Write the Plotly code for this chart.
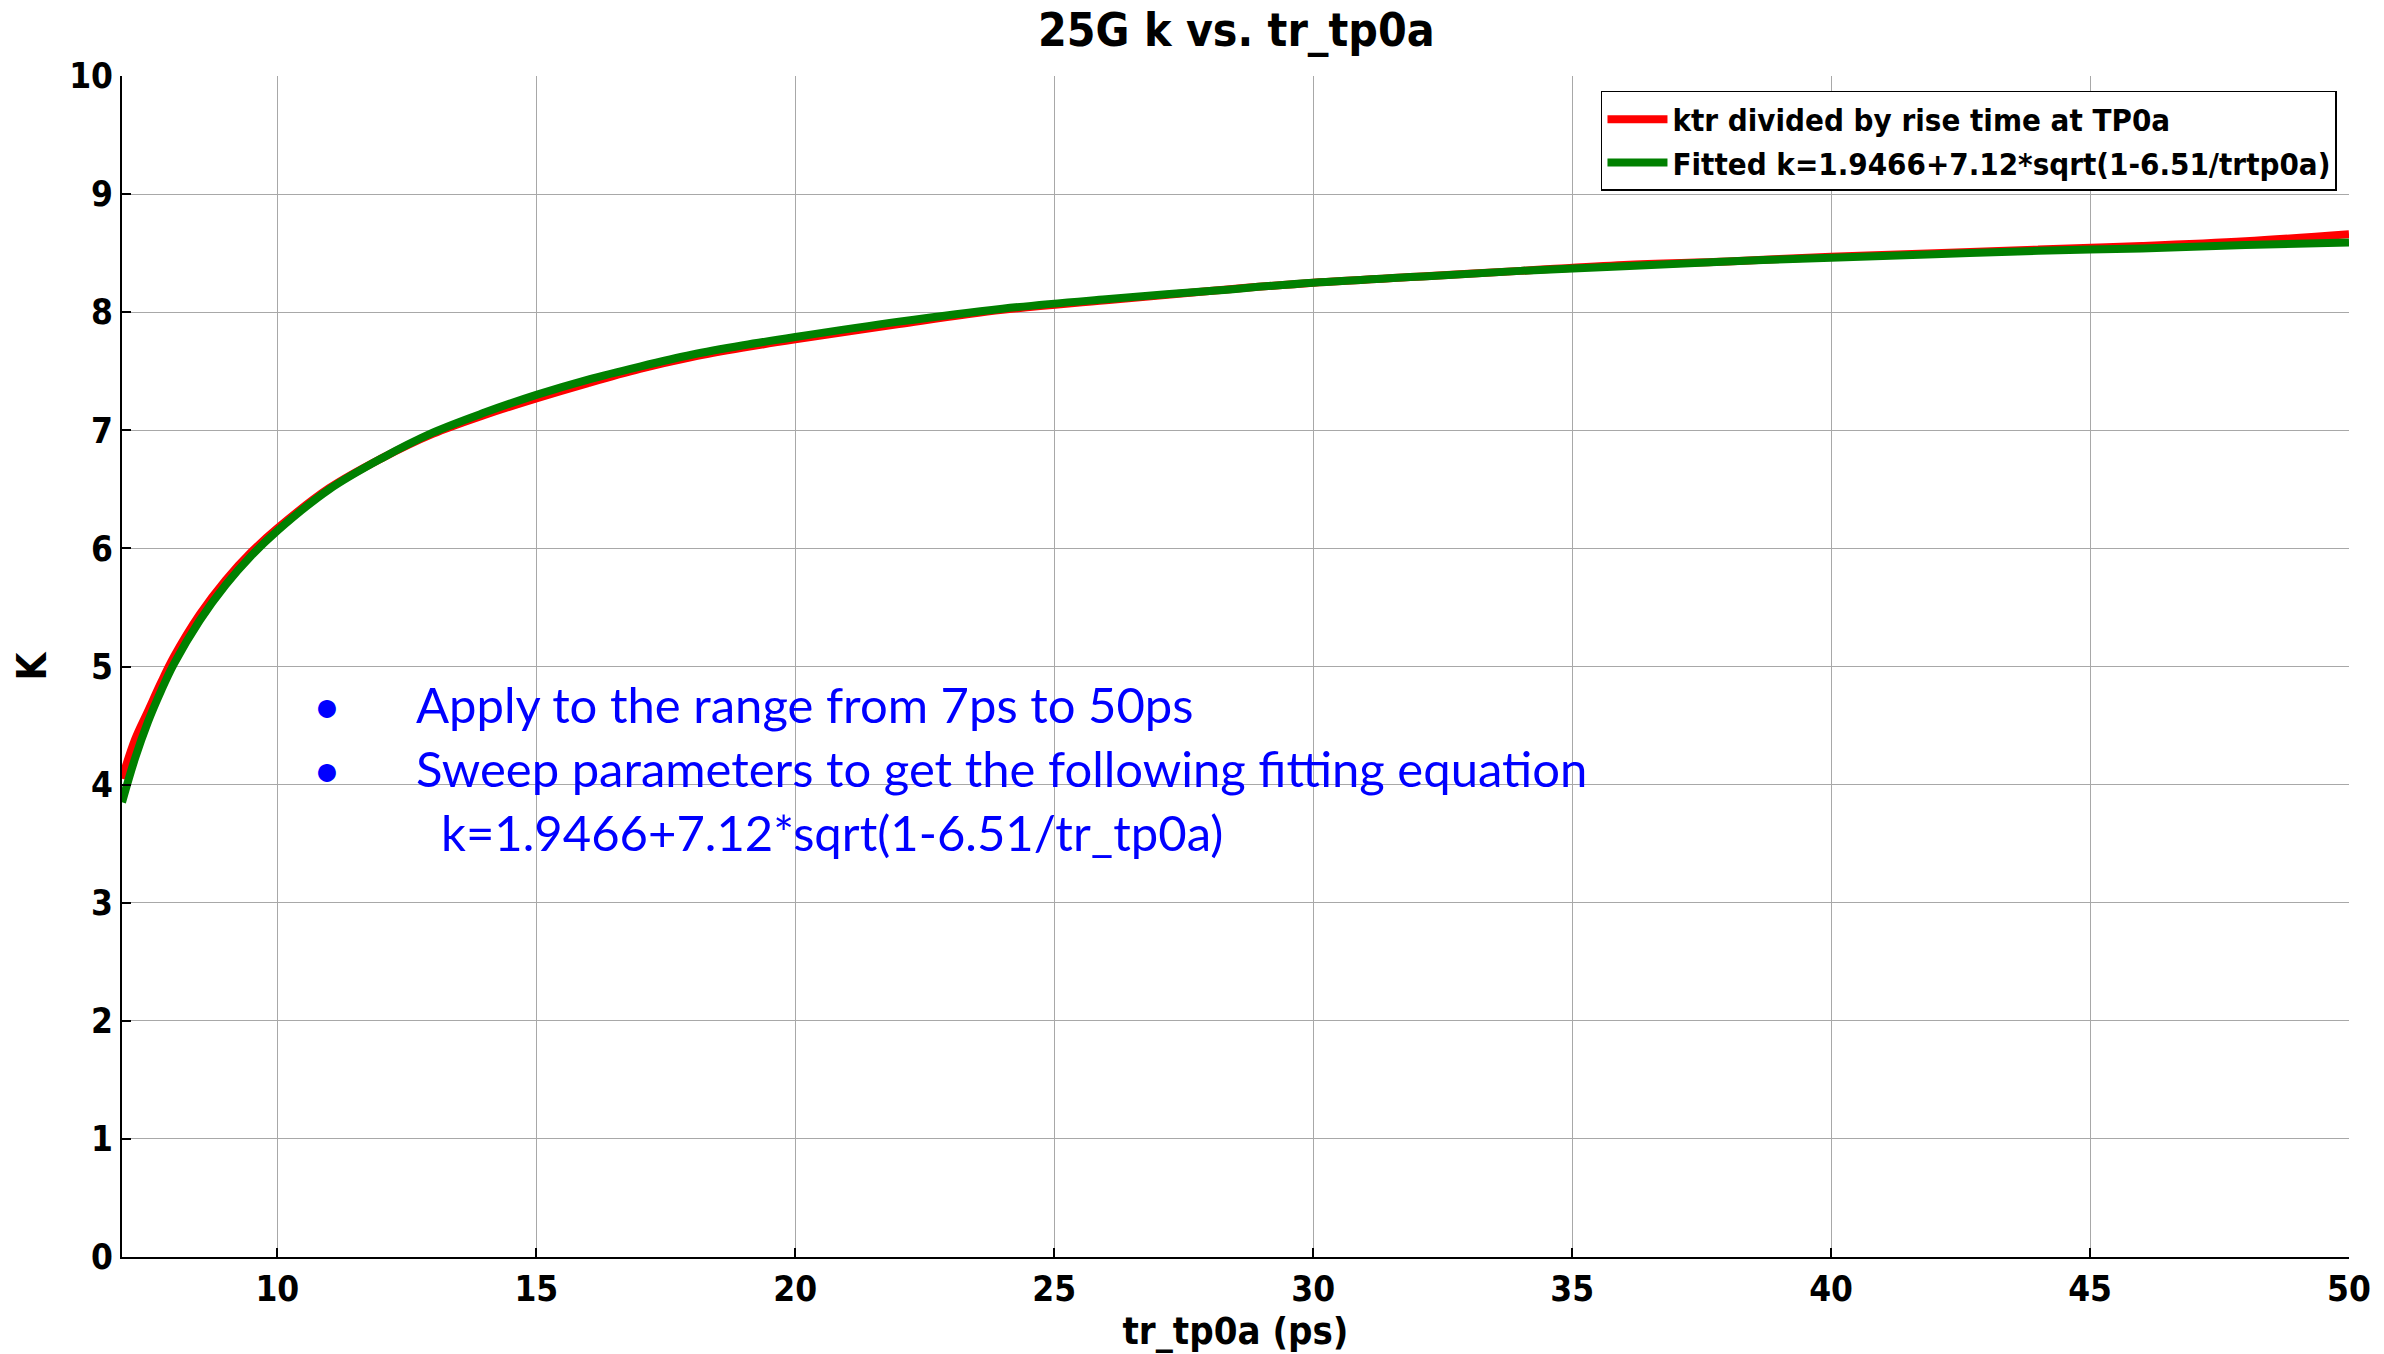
import plotly.graph_objects as go

# ---- data ----
tr_ps = [7, 7.25, 7.5, 7.75, 8, 8.5, 9, 9.5, 10, 11, 12, 13, 14, 15, 16, 17, 18, 19, 20,
         22, 24, 26, 28, 30, 32, 34, 36, 38, 40, 42, 44, 46, 48, 50]
k_measured = [4.05, 4.38, 4.62, 4.86, 5.08, 5.44, 5.73, 5.97, 6.17, 6.51, 6.76, 6.97, 7.13,
              7.27, 7.40, 7.52, 7.62, 7.70, 7.77, 7.90, 8.02, 8.10, 8.18, 8.25, 8.30, 8.35,
              8.40, 8.43, 8.47, 8.50, 8.53, 8.56, 8.60, 8.66]
k_fitted = [3.85, 4.22, 4.53, 4.79, 5.02, 5.39, 5.69, 5.94, 6.15, 6.50, 6.76, 6.98, 7.15,
            7.30, 7.43, 7.54, 7.64, 7.72, 7.79, 7.92, 8.03, 8.11, 8.18, 8.25, 8.30, 8.35,
            8.39, 8.43, 8.46, 8.49, 8.52, 8.54, 8.57, 8.59]

series_names = ["ktr divided by rise time at TP0a",
                "Fitted k=1.9466+7.12*sqrt(1-6.51/trtp0a)"]
x_ticks = [10, 15, 20, 25, 30, 35, 40, 45, 50]
y_ticks = [0, 1, 2, 3, 4, 5, 6, 7, 8, 9, 10]
note_lines = ["Apply to the range from 7ps to 50ps",
              "Sweep parameters to get the following fitting equation",
              "k=1.9466+7.12*sqrt(1-6.51/tr_tp0a)"]

NARROW = "Liberation Sans Narrow, Arial Narrow, DejaVu Sans Condensed, Liberation Sans, Arial"
NOTE_FONT = "Lato, Carlito, Calibri, Open Sans, sans-serif"

fig = go.Figure()
fig.add_trace(go.Scatter(x=tr_ps, y=k_measured, mode="lines", name=series_names[0],
                         line=dict(color="#ff0000", width=8, shape="spline")))
fig.add_trace(go.Scatter(x=tr_ps, y=k_fitted, mode="lines", name=series_names[1],
                         line=dict(color="#008000", width=8, shape="spline")))

# annotation text block
ys = [4.68, 4.14, 3.60]
for i, (txt, y) in enumerate(zip(note_lines, ys)):
    if i < 2:
        fig.add_annotation(x=10.96, y=y, xref="x", yref="y", text="•", showarrow=False,
                           xanchor="center", yanchor="middle",
                           font=dict(family=NOTE_FONT, size=48, color="#0000ff"))
        fig.add_annotation(x=12.64, y=y, xref="x", yref="y", text=txt, showarrow=False,
                           xanchor="left", yanchor="middle",
                           font=dict(family=NOTE_FONT, size=49, color="#0000ff"))
    else:
        fig.add_annotation(x=13.12, y=y, xref="x", yref="y", text=txt, showarrow=False,
                           xanchor="left", yanchor="middle",
                           font=dict(family=NOTE_FONT, size=49, color="#0000ff"))

axis_common = dict(showgrid=True, gridcolor="#a8a8a8", gridwidth=1,
                   showline=True, linecolor="black", linewidth=2,
                   ticks="inside", ticklen=9, tickcolor="black", tickwidth=1.5,
                   zeroline=False,
                   tickfont=dict(family=NARROW, size=35, color="black", weight="bold"))

fig.update_layout(
    width=2384, height=1354,
    margin=dict(l=122, r=35, t=76, b=95),
    paper_bgcolor="white", plot_bgcolor="white",
    title=dict(text="<b>25G k vs. tr_tp0a</b>", x=0.5186, xanchor="center",
               y=1 - 30 / 1354, yanchor="middle", yref="container",
               font=dict(family=NARROW, size=46, color="black")),
    xaxis=dict(range=[7, 50], tickvals=x_ticks,
               title=dict(text="<b>tr_tp0a (ps)</b>", standoff=6,
                          font=dict(family=NARROW, size=38, color="black")),
               **axis_common),
    yaxis=dict(range=[0, 10], tickvals=y_ticks,
               title=dict(text="<b>K</b>", standoff=10,
                          font=dict(family=NARROW, size=40, color="black")),
               **axis_common),
    legend=dict(x=0.9946, y=0.9873, xanchor="right", yanchor="top",
                bgcolor="white", bordercolor="black", borderwidth=1.5,
                font=dict(family=NARROW, size=31, color="black", weight="bold"),
                itemwidth=60, tracegroupgap=0),
    showlegend=True,
)

fig.write_html("out.html")
